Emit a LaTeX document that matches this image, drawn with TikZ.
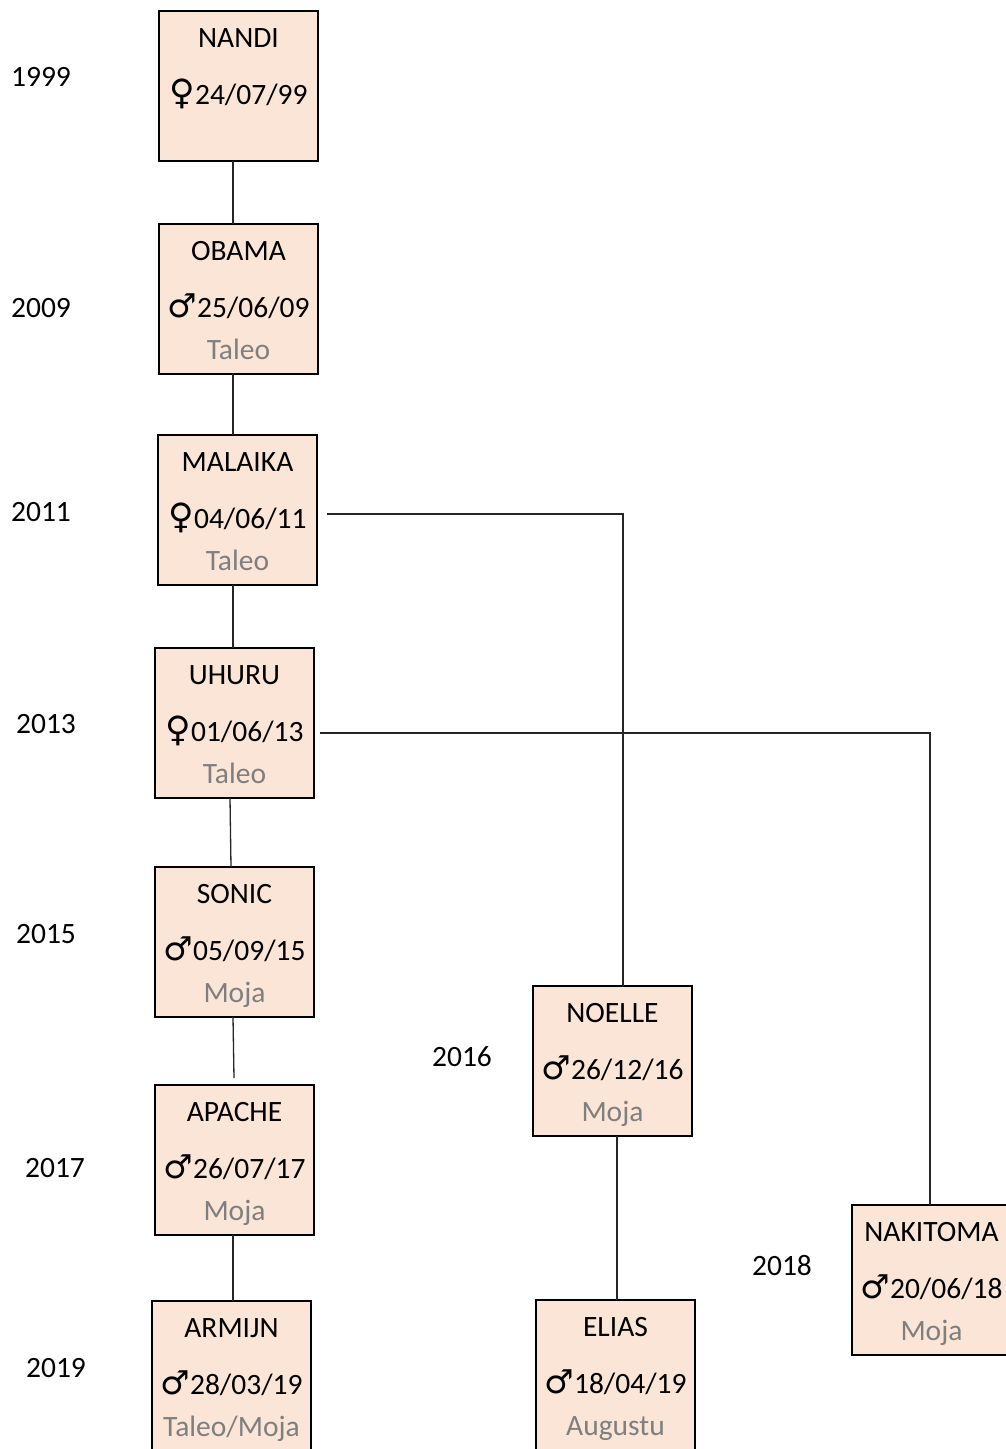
\documentclass[tikz,border=0pt]{standalone}
\usepackage{fontspec}
\setmainfont{Carlito}
\newfontfamily\symfont{DejaVu Sans}
\usetikzlibrary{positioning}
\definecolor{boxfill}{RGB}{251,229,214}
\definecolor{stal}{RGB}{127,127,127}
\tikzstyle{dier}=[draw, line width=2pt, fill=boxfill, minimum width=159pt,
minimum height=150pt, outer sep=0pt, inner sep=0pt, align=center,
font=\fontsize{29.5}{33}\selectfont]
\tikzstyle{jaar}=[font=\fontsize{29.5}{33}\selectfont]
\tikzstyle{lijn}=[line width=1.3pt, draw=black!85]
\newcommand{\vrouwtje}{{\symfont\fontsize{35}{33}\selectfont ♀}}
\newcommand{\mannetje}{{\symfont\fontsize{33}{33}\selectfont ♂}}
\newcommand{\kaart}[3]{\rule{0pt}{31pt}#1\\[24pt]\strut #2\\[9pt]\strut\textcolor{stal}{#3}}

\begin{document}
\begin{tikzpicture}[x=1pt, y=-1pt]
    \useasboundingbox (0,0) rectangle (1006,1449);
    \clip (0,0) rectangle (1006,1449);

    \node[dier] (nandi) at (238.5,86) {\kaart{NANDI}{\vrouwtje24/07/99}{}};

    \node[dier, below=63pt of nandi] (obama) {\kaart{OBAMA}{\mannetje25/06/09}{Taleo}};
    \draw[lijn] ([xshift=-5.5pt]nandi.south) -- ([xshift=-5.5pt]obama.north);

    \node[dier, below=61pt of obama, xshift=-1pt] (malaika) {\kaart{MALAIKA}{\vrouwtje04/06/11}{Taleo}};
    \draw[lijn] ([xshift=-5.5pt]obama.south) -- ([xshift=-4.5pt]malaika.north);

    \node[dier, below=63pt of malaika, xshift=-3pt] (uhuru) {\kaart{UHURU}{\vrouwtje01/06/13}{Taleo}};
    \draw[lijn] ([xshift=-4.5pt]malaika.south) -- ([xshift=-1.5pt]uhuru.north);

    \node[dier, below=69pt of uhuru] (sonic) {\kaart{SONIC}{\mannetje05/09/15}{Moja}};
    \draw[lijn] ([xshift=-4.5pt]uhuru.south) -- ([xshift=-3.5pt]sonic.north);

    \node[dier, below=68pt of sonic] (apache) {\kaart{APACHE}{\mannetje26/07/17}{Moja}};
    \draw[lijn] ([xshift=-1.5pt]sonic.south) -- ([xshift=-0.5pt, yshift=7pt]apache.north);

    \node[dier, below=66pt of apache, xshift=-3pt] (armijn) {\kaart{ARMIJN}{\mannetje28/03/19}{Taleo/Moja}};
    \draw[lijn] ([xshift=-1.5pt]apache.south) -- ([xshift=1.5pt]armijn.north);

    \node[dier] (noelle) at (612.5,1061) {\kaart{NOELLE}{\mannetje26/12/16}{Moja}};
    \draw[lijn] ([xshift=10pt, yshift=-4pt]malaika.east) -| ([xshift=10.5pt]noelle.north);

    \node[dier] (elias) at (615.5,1375) {\kaart{ELIAS}{\mannetje18/04/19}{Augustu}};
    \draw[lijn] ([xshift=4.5pt]noelle.south) -- ([xshift=1.5pt]elias.north);

    \node[dier] (nakitoma) at (931.5,1280) {\kaart{NAKITOMA}{\mannetje20/06/18}{Moja}};
    \draw[lijn] ([xshift=6pt, yshift=-10pt]uhuru.east) -| ([xshift=-1.5pt]nakitoma.north);

    % jaren
    \node[jaar] (j1999) at (41,77) {1999};
    \node[jaar] (j2009) at (41,308) {2009};
    \node[jaar] (j2011) at (41,512) {2011};
    \node[jaar] (j2013) at (46,724) {2013};
    \node[jaar] (j2015) at (46,934) {2015};
    \node[jaar] (j2016) at (462,1057) {2016};
    \node[jaar] (j2017) at (55,1168) {2017};
    \node[jaar] (j2018) at (782,1266) {2018};
    \node[jaar] (j2019) at (56,1368) {2019};
\end{tikzpicture}
\end{document}
